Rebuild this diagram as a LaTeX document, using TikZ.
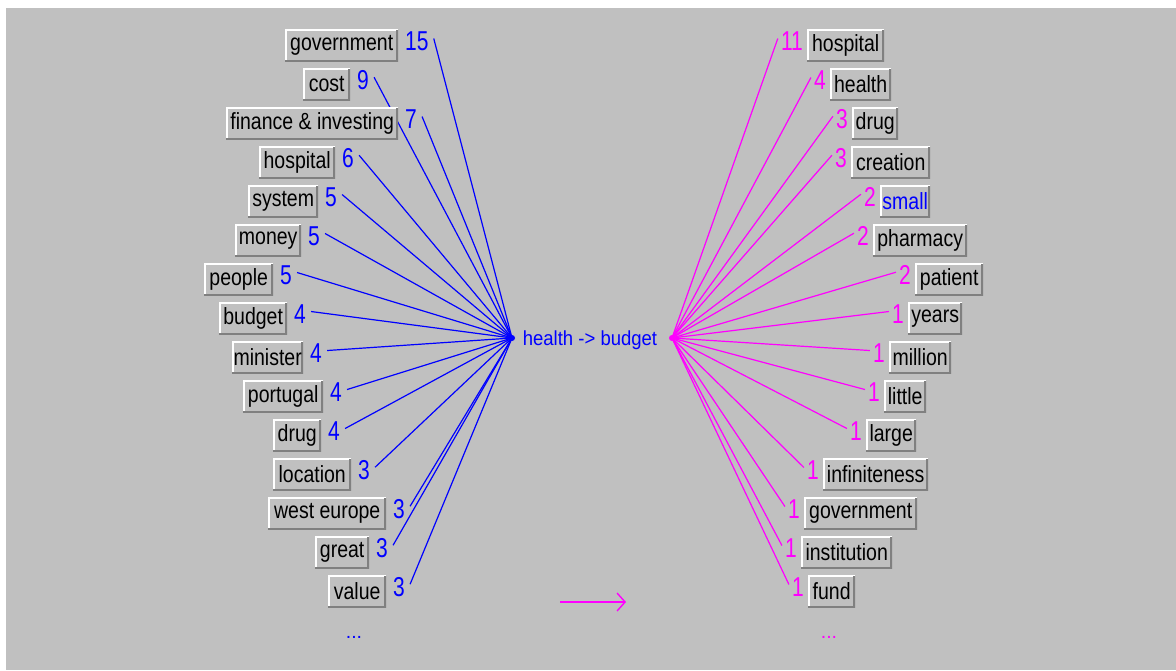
\documentclass[tikz,border=0pt]{standalone}
\usepackage{fontspec}
\usepackage{graphicx}
\setmainfont{Liberation Sans}
\usetikzlibrary{arrows.meta}

\definecolor{panel}{HTML}{C0C0C0}
\definecolor{edgedark}{HTML}{808080}
\definecolor{linkblue}{HTML}{0000FF}
\definecolor{linkpink}{HTML}{FF00FF}

% tall, slightly condensed lettering in the style of a classic GUI font
\newcommand\lbl[1]{\scalebox{1}[1.2]{#1}}
\newcommand\dig[1]{\scalebox{1}[1.3]{\fontsize{21}{21}\selectfont #1}}
\newcommand\ctr[1]{\scalebox{1}[1.1]{#1}}

\tikzset{
  wordbox/.style={rectangle, inner sep=0pt, minimum height=32, fill=panel,
    font=\fontsize{19.5}{20}\selectfont,
    path picture={
      \draw[white, line width=3]
        (path picture bounding box.south west) -- (path picture bounding box.north west)
        -- (path picture bounding box.north east);
      \draw[edgedark, line width=4]
        (path picture bounding box.south west) -- (path picture bounding box.south east)
        -- (path picture bounding box.north east);
    }},
  countL/.style={inner sep=0pt, text=linkblue},
  countR/.style={inner sep=0pt, text=linkpink},
  linkL/.style={draw=linkblue, line width=1.2},
  linkR/.style={draw=linkpink, line width=1.2},
}

\begin{document}
\begin{tikzpicture}[x=1pt, y=-1pt]
  \useasboundingbox (0,0) rectangle (1176,670);
  \fill[white] (0,0) rectangle (1176,670);
  \fill[panel] (6,8) rectangle (1176,670);

  % the two hubs and the relation between them
  \coordinate (hubL) at (512,338);
  \coordinate (hubR) at (672,338);
  \node[anchor=base, text=linkblue, inner sep=0pt, font=\fontsize{18.5}{19}\selectfont]
    (relation) at (590,345) {\ctr{health -> budget}};

  % left fan: word box, count, link to the left hub
  \foreach \i/\txt/\bl/\br/\num in {
      1/government/285/398/15,
      2/cost/303/350/9,
      3/finance \& investing/226/398/7,
      4/hospital/259/335/6,
      5/system/248/318/5,
      6/money/235/301/5,
      7/people/204/273/5,
      8/budget/219/287/4,
      9/minister/232/303/4,
      10/portugal/243/323/4,
      11/drug/273/321/4,
      12/location/273/351/3,
      13/west europe/268/386/3,
      14/great/315/369/3,
      15/value/328/386/3}{
    \pgfmathsetmacro\cy{45.5+39*(\i-1)}
    \node[wordbox, anchor=west, minimum width={(\br-\bl)*1pt}] (L\i) at (\bl,\cy) {\lbl{\txt}};
    \node[countL, anchor=base west] (NL\i) at ({\br+7},{\cy+5}) {\dig{\num}};
    \draw[linkL] ([shift={(5,7)}]NL\i.north east) -- (hubL);
  }

  % right fan: link from the right hub, count, word box
  \foreach \i/\txt/\bl/\br/\num/\tc in {
      1/hospital/807/884/11/black,
      2/health/830/891/4/black,
      3/drug/852/898/3/black,
      4/creation/851/930/3/black,
      5/small/880/930/2/linkblue,
      6/pharmacy/873/967/2/black,
      7/patient/915/983/2/black,
      8/years/908/962/1/black,
      9/million/889/951/1/black,
      10/little/884/926/1/black,
      11/large/866/916/1/black,
      12/infiniteness/823/928/1/black,
      13/government/804/917/1/black,
      14/institution/801/892/1/black,
      15/fund/808/855/1/black}{
    \pgfmathsetmacro\cy{45.5+39*(\i-1)}
    \node[wordbox, anchor=west, text=\tc, minimum width={(\br-\bl)*1pt}] (R\i) at (\bl,\cy) {\lbl{\txt}};
    \node[countR, anchor=base east] (NR\i) at ({\bl-4},{\cy+5}) {\dig{\num}};
    \draw[linkR] (hubR) -- ([shift={(-3,7)}]NR\i.north west);
  }

  \fill[linkblue] (hubL) circle (3);
  \fill[linkpink] (hubR) circle (3);

  % more entries follow in each list
  \node[anchor=base, text=linkblue, inner sep=0pt, font=\fontsize{19.5}{20}\selectfont] (moreL) at (354,638) {...};
  \node[anchor=base, text=linkpink, inner sep=0pt, font=\fontsize{19.5}{20}\selectfont] (moreR) at (829,638) {...};

  % direction of the relation
  \coordinate (dirS) at (560,602);
  \coordinate (dirE) at (626,602);
  \draw[linkpink, line width=1.8, -{Straight Barb[length=8, width=18, line width=1.4]}] (dirS) -- (dirE);
\end{tikzpicture}
\end{document}
